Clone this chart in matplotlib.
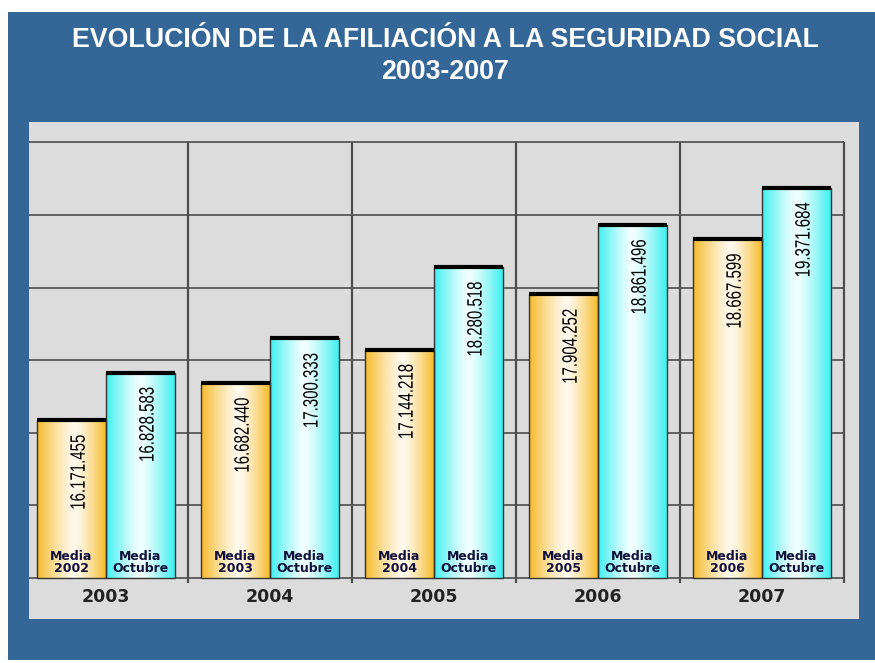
import numpy as np
import matplotlib
matplotlib.use("Agg")
import matplotlib.pyplot as plt
from matplotlib.patches import Rectangle
from matplotlib.patheffects import AbstractPathEffect
from matplotlib.transforms import Affine2D

# Afiliados: media del año anterior y media de octubre de cada año
anios = ["2003", "2004", "2005", "2006", "2007"]
media_anterior = [16171455, 16682440, 17144218, 17904252, 18667599]
media_octubre = [16828583, 17300333, 18280518, 18861496, 19371684]
etiq_anterior = ["Media\n2002", "Media\n2003", "Media\n2004", "Media\n2005", "Media\n2006"]
etiq_octubre = ["Media\nOctubre"] * 5
rejilla = [14e6, 15e6, 16e6, 17e6, 18e6, 19e6, 20e6]

AZUL = "#346798"
GRIS = "#dcdcdc"


class Estrecho(AbstractPathEffect):
    """Estrecha el texto a lo largo de la línea, fijando el final de la cadena."""

    def __init__(self, factor):
        super().__init__()
        self.factor = factor

    def draw_path(self, renderer, gc, tpath, affine, rgbFace=None):
        fin = tpath.get_extents().x1
        t = Affine2D().translate(-fin, 0).scale(self.factor, 1).translate(fin, 0)
        renderer.draw_path(gc, tpath, t + affine, rgbFace)


def fmt(v):
    return f"{v:,}".replace(",", ".")


def degradado(c_borde, c_centro, n=80, centro=0.55):
    t = np.linspace(0, 1, n)
    d = np.where(t < centro, (centro - t) / centro, (t - centro) / (1 - centro))
    w = d ** 1.3
    a = np.array(matplotlib.colors.to_rgb(c_centro))
    b = np.array(matplotlib.colors.to_rgb(c_borde))
    fila = a[None, :] * (1 - w[:, None]) + b[None, :] * w[:, None]
    return fila[None, :, :]


fig = plt.figure(figsize=(8.75, 6.63), dpi=100, facecolor="white")
W, H = 875, 663

# Panel azul de fondo
fig.patches.append(Rectangle((8 / W, 1 - 660 / H), (W - 8) / W, (660 - 12) / H,
                             transform=fig.transFigure, facecolor=AZUL,
                             edgecolor="none", zorder=-5))

fig.text(0.509, 1 - 40 / H, "EVOLUCIÓN DE LA AFILIACIÓN A LA SEGURIDAD SOCIAL",
         ha="center", va="center", color="white", fontsize=19.3, fontweight="bold",
         family=["Liberation Sans", "DejaVu Sans"])
fig.text(0.509, 1 - 72 / H, "2003-2007",
         ha="center", va="center", color="white", fontsize=19.3, fontweight="bold",
         family=["Liberation Sans", "DejaVu Sans"])

ax = fig.add_axes([29 / W, 1 - 619 / H, 830 / W, 497 / H])
ax.set_zorder(2)
ax.set_facecolor(GRIS)
for s in ax.spines.values():
    s.set_visible(False)
ax.set_xticks([])
ax.set_yticks([])

xmin, xmax = -0.4695, 4.5915
ymin, ymax = 13.435e6, 20.28e6

x = np.arange(len(anios))
ancho = 0.42

ax.hlines(rejilla, xmin, 4.5, color="#4d4d4d", lw=1.2, zorder=1)
ax.vlines(x[:-1] + 0.5, 13.931e6, 20e6, color="#4d4d4d", lw=1.6, zorder=1)
ax.vlines([4.5], 13.931e6, 20e6, color="#4d4d4d", lw=1.6, zorder=1)

barras_a = ax.bar(x - ancho / 2, np.array(media_anterior) - 14e6, bottom=14e6, width=ancho,
                  facecolor="none", edgecolor="#333333", lw=1.0, zorder=3)
barras_o = ax.bar(x + ancho / 2, np.array(media_octubre) - 14e6, bottom=14e6, width=ancho,
                  facecolor="none", edgecolor="#333333", lw=1.0, zorder=3)

grad_nar = degradado("#f6bb2c", "#fffaee")
grad_cian = degradado("#3ef0f0", "#f4ffff", centro=0.5)

for barras, grad, vals, etiqs in [(barras_a, grad_nar, media_anterior, etiq_anterior),
                                  (barras_o, grad_cian, media_octubre, etiq_octubre)]:
    for b, v, et in zip(barras, vals, etiqs):
        x0, w = b.get_x(), b.get_width()
        y0, y1 = b.get_y(), b.get_y() + b.get_height()
        ax.imshow(grad, extent=[x0, x0 + w, y0, y1], aspect="auto", zorder=2.5,
                  interpolation="bilinear")
        ax.hlines(y1, x0, x0 + w, color="black", lw=3, zorder=4)
        ax.annotate(fmt(v), (x0 + w / 2, y1), xytext=(5.5, -10), textcoords="offset points",
                    rotation=90, ha="center", va="top", fontsize=15,
                    family=["Liberation Sans", "DejaVu Sans"], color="black", zorder=5,
                    path_effects=[Estrecho(0.72)])
        t = ax.annotate(et, (x0 + w / 2, y0), xytext=(0, 2), textcoords="offset points",
                        ha="center", va="bottom", fontsize=9, fontweight="bold",
                        linespacing=0.9, color="#10103a", zorder=5)
        t.set_clip_path(b)

for i, a in enumerate(anios):
    ax.text(i, 13.739e6, a, ha="center", va="center", fontsize=12.5,
            fontweight="bold", color="#222222")

ax.set_xlim(xmin, xmax)
ax.set_ylim(ymin, ymax)

fig.savefig("out.png", dpi=100, facecolor=fig.get_facecolor())
